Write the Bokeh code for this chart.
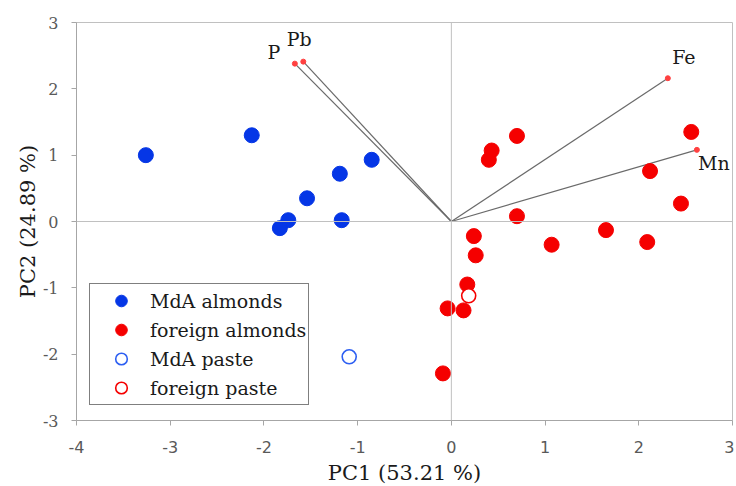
from bokeh.plotting import figure
from bokeh.models import Span, Legend, LegendItem, FixedTicker, PrintfTickFormatter
from bokeh.core.properties import value
from bokeh.embed import file_html
from bokeh.resources import INLINE

# ---- data ----
mda_x = [-3.26, -2.13, -0.85, -1.19, -1.54, -1.74, -1.83, -1.17]
mda_y = [1.00, 1.30, 0.93, 0.72, 0.35, 0.02, -0.10, 0.02]

foreign_x = [0.70, 0.43, 0.40, 2.56, 2.12, 2.45, 0.70, 0.24, 1.65, 1.07, 2.09, 0.26, 0.17, -0.04, 0.13, -0.09]
foreign_y = [1.29, 1.07, 0.93, 1.35, 0.76, 0.27, 0.08, -0.22, -0.13, -0.35, -0.31, -0.51, -0.95, -1.31, -1.34, -2.29]

mda_paste_x = [-1.09]
mda_paste_y = [-2.04]
foreign_paste_x = [0.185]
foreign_paste_y = [-1.12]

load_names = ["P", "Pb", "Fe", "Mn"]
load_x = [-1.67, -1.58, 2.31, 2.62]
load_y = [2.38, 2.41, 2.16, 1.08]
origin_x = [0, 0, 0, 0]
origin_y = [0, 0, 0, 0]

x_ticks = [-4, -3, -2, -1, 0, 1, 2, 3]
y_ticks = [-3, -2, -1, 0, 1, 2, 3]

# label placement (screen px offsets), styling only
label_dx = [-21, -4, 16, 17]
label_dy = [-12, -23, -21, 13]

FONT = "DejaVu Serif"
BLUE = "#0536e6"
BLUE_OPEN = "#2d5ff2"
RED = "#f50000"

p = figure(frame_width=656, frame_height=398, x_range=(-4, 3), y_range=(-3, 3),
           output_backend="svg", toolbar_location=None,
           min_border_left=76, min_border_right=2, min_border_top=22, min_border_bottom=64,
           background_fill_color="white", border_fill_color="white")

p.grid.visible = False
p.outline_line_color = "#c0c0c0"
p.outline_line_width = 1

for ax in (p.xaxis[0], p.yaxis[0]):
    ax.axis_line_color = "#a6a6a6"
    ax.major_tick_line_color = "#a6a6a6"
    ax.major_tick_in = 0
    ax.major_tick_out = 5
    ax.minor_tick_line_color = None
    ax.major_label_text_font_size = "16px"
    ax.major_label_text_color = "#595959"
    ax.axis_label_text_font = FONT
    ax.axis_label_text_font_size = "21px"
    ax.axis_label_text_font_style = "normal"
    ax.axis_label_text_color = "#1a1a1a"
    ax.formatter = PrintfTickFormatter(format="%d")

p.xaxis.major_label_text_font = "DejaVu Sans"
p.yaxis.major_label_text_font = FONT
p.xaxis.ticker = FixedTicker(ticks=x_ticks)
p.yaxis.ticker = FixedTicker(ticks=y_ticks)
p.xaxis.axis_label = "PC1 (53.21 %)"
p.yaxis.axis_label = "PC2 (24.89 %)"
p.xaxis.major_label_standoff = 15
p.xaxis.axis_label_standoff = 5
p.yaxis.major_label_standoff = 13
p.yaxis.axis_label_standoff = 0

# zero lines
p.add_layout(Span(location=0, dimension="height", line_color="#c0c0c0", line_width=1))
p.add_layout(Span(location=0, dimension="width", line_color="#c0c0c0", line_width=1))

# loading vectors
p.segment(x0=origin_x, y0=origin_y, x1=load_x, y1=load_y, line_color="#6a6a6a", line_width=1.2)
p.scatter(load_x, load_y, size=5, color="#ff4040")
p.text(x=load_x, y=load_y, text=load_names, x_offset=label_dx, y_offset=label_dy,
       text_align="center", text_baseline="middle", text_font=value(FONT),
       text_font_size="19px", text_color="#1a1a1a")

# scores
r1 = p.scatter(mda_x, mda_y, size=15, fill_color=BLUE, line_color=BLUE)
r2 = p.scatter(foreign_x, foreign_y, size=15, fill_color=RED, line_color=RED)
r3 = p.scatter(mda_paste_x, mda_paste_y, size=14, fill_color="white", line_color=BLUE_OPEN, line_width=1.6)
r4 = p.scatter(foreign_paste_x, foreign_paste_y, size=14, fill_color="white", line_color=RED, line_width=1.6)

legend = Legend(items=[
    LegendItem(label="MdA almonds", renderers=[r1]),
    LegendItem(label="foreign almonds", renderers=[r2]),
    LegendItem(label="MdA paste", renderers=[r3]),
    LegendItem(label="foreign paste", renderers=[r4]),
], location=(13, 15), border_line_color="black", border_line_width=1,
    background_fill_color="white", background_fill_alpha=1,
    padding=2, margin=0, spacing=0, glyph_width=58, glyph_height=29,
    label_standoff=-10, label_height=29,
    label_text_font=FONT, label_text_font_size="19px", label_text_color="#1a1a1a")
p.add_layout(legend)

open("out.html", "w").write(file_html(p, INLINE))
